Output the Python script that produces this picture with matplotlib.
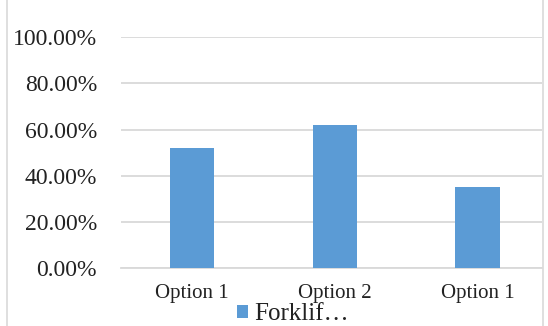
import matplotlib
matplotlib.use('Agg')
import matplotlib.pyplot as plt
from matplotlib.ticker import PercentFormatter
from matplotlib.lines import Line2D

categories = ['Option 1', 'Option 2', 'Option 1']
values = [0.52, 0.62, 0.35]
yticks = [0.0, 0.2, 0.4, 0.6, 0.8, 1.0]
seriesName = 'Forklif…'

plt.rcParams['font.family'] = ['Liberation Serif', 'DejaVu Serif']
textColor = '#222222'
gridColor = '#d9d9d9'
barColor = '#5b9bd5'

fig = plt.figure(figsize=(5.48, 3.26), dpi=100)
ax = fig.add_axes([120.6 / 548, 0.177, (542.5 - 120.6) / 548, 0.7086])

x = range(len(categories))
ax.bar(x, values, width=0.31, color=barColor, label=seriesName, zorder=3)

ax.set_xlim(-0.5, 2.455)
ax.set_ylim(0, 1.0)
ax.set_yticks(yticks)
ax.yaxis.set_major_formatter(PercentFormatter(1.0, decimals=2))
ax.set_xticks(list(x))
ax.set_xticklabels(categories)

ax.grid(axis='y', color=gridColor, linewidth=1.3, zorder=0)
ax.set_axisbelow(True)
for side in ['top', 'right', 'left']:
  ax.spines[side].set_visible(False)
ax.spines['bottom'].set_color(gridColor)
ax.spines['bottom'].set_linewidth(1.3)

ax.tick_params(axis='y', length=0, pad=17, labelsize=17, labelcolor=textColor)
ax.tick_params(axis='x', length=0, pad=11, labelsize=15, labelcolor=textColor)

# chart area border, cropped in the original
fig.add_artist(Line2D([7 / 548, 7 / 548], [0, 1], color=gridColor, linewidth=1.2))
fig.add_artist(Line2D([543 / 548, 543 / 548], [0, 1], color=gridColor, linewidth=1.2))

fig.legend(loc='lower left', bbox_to_anchor=(237 / 548, 0.002),
           frameon=False, fontsize=18, borderpad=0, borderaxespad=0,
           handlelength=0.42, handleheight=0.42, handletextpad=0.25,
           labelcolor=textColor)

fig.savefig('out.png', dpi=100)
